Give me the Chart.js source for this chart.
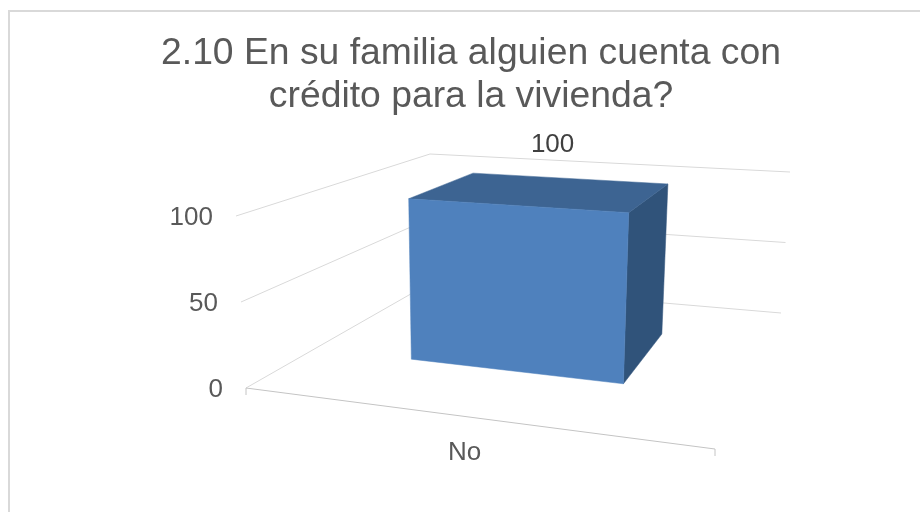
<!DOCTYPE html>
<html>
<head>
<meta charset="utf-8">
<style>
  html, body { margin: 0; padding: 0; background: #fff; }
  canvas { display: block; }
</style>
</head>
<body>
<canvas id="chart" width="920" height="512"></canvas>
<script src="https://cdn.jsdelivr.net/npm/chart.js@4/dist/chart.umd.min.js"></script>
<script>
// data
const categories = ['No'];
const seriesValues = [100];
const yTickValues = [0, 50, 100];
const titleLines = ['2.10 En su familia alguien cuenta con', 'crédito para la vivienda?'];

// 3d frame corners on the page: floor and top of the plot box
const frame = {
  floor: { fl: [246, 388], fr: [715, 449], bl: [430, 283], br: [781, 313] },
  top:   { fl: [236, 216], fr: [725, 250], bl: [430, 154], br: [790, 172] }
};
const barDepth = [0.38, 0.77];   // where the bar sits between front and back of the floor
const frameShift = -0.025;       // bar is a bit left of the middle of the floor

const lerp = (a, b, t) => a + (b - a) * t;
const lerp2 = (p, q, t) => [lerp(p[0], q[0], t), lerp(p[1], q[1], t)];

// u = across the floor, d = front to back, t = share of the axis height
function project(u, d, t) {
  const plane = k => lerp2(lerp2(frame[k].fl, frame[k].fr, u), lerp2(frame[k].bl, frame[k].br, u), d);
  return lerp2(plane('floor'), plane('top'), t);
}

function poly(ctx, pts, color) {
  ctx.beginPath();
  pts.forEach((p, i) => i ? ctx.lineTo(p[0], p[1]) : ctx.moveTo(p[0], p[1]));
  ctx.closePath();
  ctx.fillStyle = color;
  ctx.fill();
  ctx.strokeStyle = color;
  ctx.lineWidth = 0.5;
  ctx.stroke();
}

function line(ctx, pts, color, width) {
  ctx.beginPath();
  pts.forEach((p, i) => i ? ctx.lineTo(p[0], p[1]) : ctx.moveTo(p[0], p[1]));
  ctx.strokeStyle = color;
  ctx.lineWidth = width;
  ctx.stroke();
}

// replaces the flat rectangle of a bar element with a box through the same scale pixels
function drawBox(el, ctx, area) {
  const h = area.bottom - area.top;
  const w = area.right - area.left;
  const u0 = (el.x - el.width / 2 - area.left) / w + frameShift;
  const u1 = (el.x + el.width / 2 - area.left) / w + frameShift;
  const t0 = (area.bottom - el.base) / h;
  const t1 = (area.bottom - el.y) / h;
  const [d0, d1] = barDepth;
  ctx.save();
  poly(ctx, [project(u1, d0, t0), project(u1, d1, t0), project(u1, d1, t1), project(u1, d0, t1)], '#30537a');
  poly(ctx, [project(u0, d0, t1), project(u0, d1, t1), project(u1, d1, t1), project(u1, d0, t1)], '#3d6492');
  poly(ctx, [project(u0, d0, t0), project(u1, d0, t0), project(u1, d0, t1), project(u0, d0, t1)], '#4f81bd');
  ctx.restore();
}

const box3d = {
  id: 'box3d',
  afterLayout(chart) {
    // title is centered on the whole picture's plot, not on the padded box
    chart.titleBlock.left = 160;
    chart.titleBlock.right = 782;
  },
  afterDatasetUpdate(chart, args) {
    chart.getDatasetMeta(args.index).data.forEach(el => {
      el.draw = ctx => drawBox(el, ctx, chart.chartArea);
    });
  },
  beforeDraw(chart) {
    // y labels follow the slanted front edge of the wall
    const { chartArea: area, scales: { y } } = chart;
    const h = area.bottom - area.top;
    y.getLabelItems().forEach((item, i) => {
      const p = project(0, 0, (area.bottom - y.getPixelForValue(y.ticks[i].value)) / h);
      item.options.translation = [p[0] - 23, p[1] + 1.5];
    });
  },
  beforeDatasetsDraw(chart) {
    const { ctx, chartArea: area, scales: { y } } = chart;
    const h = area.bottom - area.top;
    ctx.save();
    // outer border, only top and left show in the picture
    line(ctx, [[9, 512], [9, 11], [920, 11]], '#d9d9d9', 2);
    yTickValues.forEach(v => {
      const t = (area.bottom - y.getPixelForValue(v)) / h;
      line(ctx, [project(0, 0, t), project(0, 1, t), project(1, 1, t)], '#d9d9d9', 1);
    });
    line(ctx, [[246, 395], project(0, 0, 0), project(1, 0, 0), [715, 456]], '#c4c4c4', 1);
    ctx.restore();
  },
  afterDatasetsDraw(chart) {
    const { ctx, chartArea: area, scales: { x } } = chart;
    const u = (x.getPixelForValue(0) - area.left) / (area.right - area.left) + frameShift;
    const p = project(u, (barDepth[0] + barDepth[1]) / 2, 1);
    ctx.save();
    ctx.font = '26px "Liberation Sans"';
    ctx.fillStyle = '#404040';
    ctx.textAlign = 'center';
    ctx.textBaseline = 'middle';
    ctx.fillText(String(seriesValues[0]), p[0] + 8, p[1] - 47);
    ctx.restore();
  }
};

new Chart(document.getElementById('chart'), {
  type: 'bar',
  data: {
    labels: categories,
    datasets: [{
      data: seriesValues,
      backgroundColor: '#4f81bd',
      barPercentage: 0.5,
      categoryPercentage: 1,
      clip: false
    }]
  },
  options: {
    responsive: false,
    animation: false,
    layout: { padding: { left: 170, right: 224, top: 0, bottom: 0 } },
    plugins: {
      legend: { display: false },
      tooltip: { enabled: false },
      title: {
        display: true,
        text: titleLines,
        color: '#595959',
        font: { family: '"Liberation Sans"', size: 37.3, weight: 'normal', lineHeight: 1.135 },
        padding: { top: 33, bottom: 99 }
      }
    },
    scales: {
      x: {
        grid: { display: false },
        border: { display: false },
        afterFit(scale) { scale.height = 123; },
        ticks: { color: '#595959', padding: 40, font: { family: '"Liberation Sans"', size: 26 } }
      },
      y: {
        min: 0,
        max: 100,
        afterBuildTicks(scale) { scale.ticks = yTickValues.map(value => ({ value })); },
        grid: { display: false },
        border: { display: false },
        ticks: { color: '#595959', padding: 6, font: { family: '"Liberation Sans"', size: 26 } }
      }
    }
  },
  plugins: [box3d]
});
</script>
</body>
</html>
